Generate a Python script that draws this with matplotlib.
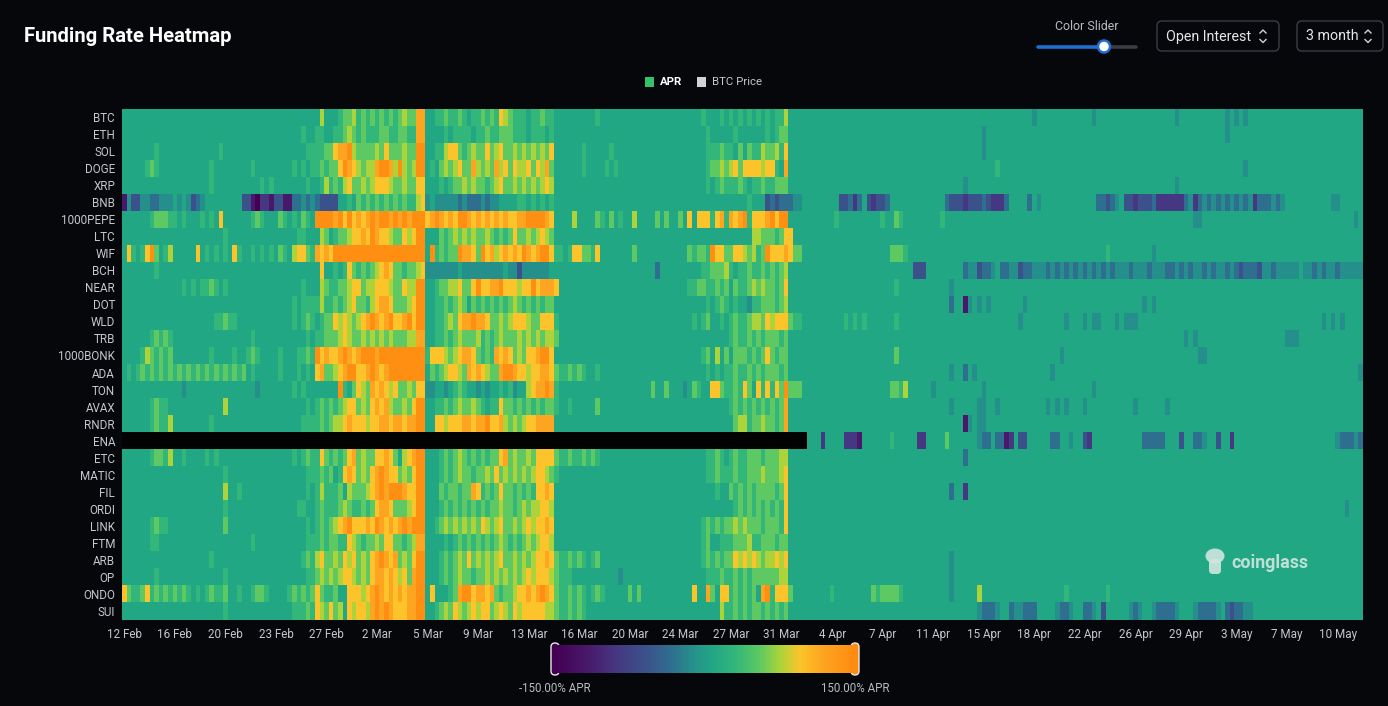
import numpy as np
import matplotlib
matplotlib.use("Agg")
import matplotlib.pyplot as plt
from matplotlib.colors import LinearSegmentedColormap, Normalize
from matplotlib.patches import FancyBboxPatch, Rectangle, Circle, Ellipse
from matplotlib.cm import ScalarMappable

# ---------------- data ----------------
coins = ["BTC", "ETH", "SOL", "DOGE", "XRP", "BNB", "1000PEPE", "LTC", "WIF", "BCH",
         "NEAR", "DOT", "WLD", "TRB", "1000BONK", "ADA", "TON", "AVAX", "RNDR", "ENA",
         "ETC", "MATIC", "FIL", "ORDI", "LINK", "FTM", "ARB", "OP", "ONDO", "SUI"]

date_labels = ["12 Feb", "16 Feb", "20 Feb", "23 Feb", "27 Feb", "2 Mar", "5 Mar", "9 Mar",
               "13 Mar", "16 Mar", "20 Mar", "24 Mar", "27 Mar", "31 Mar", "4 Apr", "7 Apr",
               "11 Apr", "15 Apr", "18 Apr", "22 Apr", "26 Apr", "29 Apr", "3 May", "7 May",
               "10 May"]
label_every = 11   # one date label every 11 funding intervals (8h each)

# funding-rate level code -> APR (%); 'x' = no data
level_apr = {'0': -150, '1': -120, '2': -90, '3': -60, '4': -35, '5': -12, '6': 8,
             '7': 30, '8': 55, '9': 75, 'a': 95, 'b': 118, 'c': 145}

# one code per 8h funding interval, grouped by day (3 per group)
BTC = """
666 666 666 666 666 666 666 666 666 666
666 666 666 666 696 667 889 787 878 787
898 8bb 667 787 787 677 878 7a9 877 767
787 766 666 666 676 666 666 666 666 666
666 666 766 676 767 676 767 677 966 666
666 666 666 666 666 666 666 666 666 666
666 666 666 666 666 666 566 666 666 666
656 666 666 666 666 666 656 666 666 666
565 656 666 666 666 666 666 666 666 666
"""
ETH = """
666 666 666 666 666 666 666 666 666 666
666 666 666 766 776 677 898 787 778 877
887 7bb 666 676 777 767 787 788 877 767
776 766 666 666 666 666 666 666 666 666
666 666 676 666 676 666 667 678 866 666
666 666 666 666 666 666 666 666 666 666
666 666 656 666 666 666 666 666 666 666
666 666 666 666 666 666 666 666 666 666
566 666 666 666 666 666 666 666 666 666
"""
SOL = """
666 666 676 666 666 666 666 766 666 666
666 666 666 677 778 8ab bc9 888 898 a88
898 8cc 667 79a a87 898 8a8 9a8 898 989
898 a66 666 676 666 676 666 666 666 666
666 666 677 787 768 687 798 897 a66 666
666 666 666 666 666 666 666 666 666 666
666 666 656 666 666 666 666 666 666 666
666 666 666 666 666 666 666 666 666 666
666 666 666 666 666 666 666 666 666 666
"""
DOGE = """
666 667 876 666 666 666 676 666 666 676
666 666 676 767 787 88a cba 989 9bc cb9
c98 9cc 676 898 9a8 8b9 898 b9a 8a9 9a8
a9b 866 666 676 666 767 666 666 666 666
666 666 678 898 9a8 aaa a9a a76 b66 666
666 666 666 666 666 666 666 666 666 666
666 666 666 676 666 666 666 666 666 666
666 666 666 666 666 666 666 666 666 666
666 656 666 666 666 666 666 666 666 666
"""
XRP = """
666 666 666 666 666 666 676 666 666 666
767 666 666 676 679 787 9a8 898 9aa a98
898 8aa 666 767 889 898 878 9a8 898 989
89a 966 666 666 666 666 666 666 666 666
666 666 676 787 778 767 787 788 866 666
666 666 666 666 666 666 666 666 666 666
666 566 666 666 666 666 666 666 666 666
666 666 666 666 666 666 656 666 666 666
666 666 666 666 666 666 666 666 666 666
"""
BNB = """
153 355 445 556 565 345 666 666 663 310
221 331 144 545 433 336 676 878 787 878
787 79a 565 555 545 444 545 566 667 767
676 766 666 666 666 666 666 666 666 666
666 666 666 666 666 676 663 434 445 566
666 666 334 246 323 346 666 666 666 664
333 233 343 222 466 664 656 666 666 666
664 434 563 323 334 222 222 452 454 545
454 545 244 454 566 666 666 665 566 666
"""
PEPE1000 = """
666 666 788 877 676 667 676 a66 666 678
766 687 676 876 ccc cbc aca bab cbc cbc
bcb ccc abc bab acc bab aba bab aab bcc
ccb a66 669 666 687 686 766 966 668 686
686 a6a aa7 ab7 bab c7a aab cac c66 666
666 667 666 666 666 766 876 666 666 676
666 666 666 666 666 666 666 666 666 666
666 666 666 666 666 666 666 665 566 666
666 666 666 666 666 666 666 666 666 656
"""
LTC = """
666 666 666 666 666 666 666 676 666 666
666 666 667 766 698 678 89a aba cba a98
8a9 acc 666 878 989 898 898 787 8a8 898
9a9 866 666 666 666 666 666 666 666 666
666 666 666 666 666 669 988 878 aa6 666
666 666 666 666 666 666 666 666 666 666
666 666 666 666 666 666 666 666 666 666
666 666 666 666 666 666 666 666 666 666
666 666 666 666 666 666 666 666 666 666
"""
WIF = """
6a7 67a c86 796 666 6a6 767 676 a76 676
767 687 69a a87 bab acc ccc ccc ccc ccc
ccc ccc 6c7 878 8cb ba8 cab 9ab aba cba
bcc a77 67a a88 7a6 666 666 866 666 666
666 878 87c aa8 8aa 989 78c aaa ba8 866
666 666 666 666 666 668 887 666 666 666
666 666 666 666 666 666 666 666 666 666
666 676 666 666 665 666 666 666 666 666
666 666 666 666 666 666 666 666 666 666
"""
BCH = """
666 666 676 666 666 666 666 666 666 666
666 666 666 666 6a6 676 7a8 787 89a ba8
878 89a 555 555 565 555 555 556 553 555
555 666 666 666 666 666 666 666 664 666
666 666 778 889 767 787 787 878 966 666
666 666 666 666 666 666 666 633 366 666
666 455 344 564 455 344 555 454 545 454
545 454 555 455 545 554 454 545 545 455
454 344 435 545 555 565 545 455 455 555
"""
NEAR = """
666 666 666 666 676 767 787 676 666 666
666 666 666 766 698 778 89a a89 9aa a98
8a9 9cc 667 889 9a8 8ac aab bca aa9 aac
abb ba6 666 666 666 666 666 666 666 666
666 778 877 878 687 789 898 878 a66 666
666 666 666 666 666 666 766 666 666 666
566 666 666 666 666 666 666 666 666 666
666 666 666 666 666 666 666 666 666 666
666 666 666 666 666 666 666 666 666 666
"""
DOT = """
666 666 666 666 666 666 666 666 666 666
666 666 676 777 797 787 89a 887 9ab ba8
889 acc 667 787 898 687 878 787 898 787
878 866 666 666 666 666 666 666 666 666
666 666 676 787 676 657 788 878 966 666
666 666 666 666 666 666 666 666 666 666
466 156 565 666 666 656 666 666 666 666
666 666 666 666 565 666 666 666 666 666
666 666 666 666 666 666 666 666 666 666
"""
WLD = """
666 666 666 666 666 666 667 787 766 666
666 666 676 787 678 8a9 a98 9ab cba bca
abc acc 667 789 8ab bcb ba8 898 9aa a98
8aa a76 666 666 666 666 666 666 666 666
666 676 786 676 787 789 98a 9aa a87 766
666 666 676 767 666 666 766 666 666 666
666 666 666 666 666 566 666 666 656 665
655 666 565 556 666 666 666 666 666 666
666 666 666 666 666 666 666 565 656 666
"""
TRB = """
666 666 787 876 666 666 666 666 666 676
666 666 666 676 778 889 a98 898 989 898
889 9bb 667 787 898 889 787 898 889 898
989 986 666 666 666 666 666 666 666 666
666 666 666 666 787 787 878 887 866 666
666 666 666 666 666 666 666 666 666 666
666 666 666 666 666 666 666 666 666 666
666 666 666 666 666 666 666 565 666 666
666 666 666 666 655 566 666 666 666 666
"""
BONK1000 = """
666 679 878 786 666 666 676 666 766 787
666 676 667 787 cab aab cba bcc cbc ccc
ccc ccc 7aa a98 9ab ba8 787 bab a89 8aa
bcc a66 666 666 666 666 666 666 666 666
666 666 786 968 688 878 78a 878 866 666
666 666 666 666 666 666 866 666 666 666
666 666 666 666 666 666 666 666 566 666
666 666 666 666 666 666 666 666 556 666
666 666 666 666 666 666 666 666 666 666
"""
ADA = """
676 787 878 787 878 787 878 787 878 676
666 676 667 676 ab8 89a bcc aab cba bcc
ccc ccc 687 89a a98 bab a98 8bc cba a9a
abb a87 787 876 676 666 666 666 666 666
666 666 676 767 787 787 878 887 866 666
666 666 666 666 666 666 666 666 666 666
566 465 666 666 666 666 666 656 666 666
666 666 666 666 666 666 666 666 666 666
666 666 666 666 666 666 666 666 666 665
"""
TON = """
666 666 666 666 656 666 666 666 666 665
666 666 676 766 666 66c 768 a98 bab a9a
889 8aa 556 656 787 665 656 676 756 69a
bbc b76 666 666 666 666 666 666 686 686
665 687 66a a87 787 a86 a7a 7a8 c88 866
666 666 666 666 666 668 879 666 665 666
666 666 656 666 666 666 666 666 666 666
656 666 666 666 666 666 666 666 666 666
666 666 666 666 666 666 666 666 666 666
"""
AVAX = """
666 666 787 766 666 666 666 696 666 666
666 666 666 676 787 878 9aa 898 aba b98
898 acc 667 787 898 898 767 7a8 878 787
878 876 676 666 686 666 666 666 666 666
666 666 666 666 787 878 787 878 b66 666
666 666 666 666 666 666 666 666 666 666
566 666 556 656 666 666 666 565 656 665
666 666 666 656 666 665 666 666 666 666
666 666 666 666 666 666 666 666 666 666
"""
RNDR = """
666 666 787 796 666 666 676 666 666 666
666 666 666 777 787 899 aba aa9 aab bab
bab bcc 66a a9a aab bab bca ab9 898 9aa
bbb b66 666 666 666 666 666 666 666 666
666 666 666 666 689 978 898 878 b66 666
666 666 666 666 666 666 666 666 666 666
666 156 556 666 666 666 666 666 666 666
666 666 666 666 666 666 666 666 666 666
666 666 666 666 666 666 666 666 666 666
"""
ENA = """
xxx xxx xxx xxx xxx xxx xxx xxx xxx xxx
xxx xxx xxx xxx xxx xxx xxx xxx xxx xxx
xxx xxx xxx xxx xxx xxx xxx xxx xxx xxx
xxx xxx xxx xxx xxx xxx xxx xxx xxx xxx
xxx xxx xxx xxx xxx xxx xxx xxx xxx xx6
662 666 622 216 666 667 666 662 266 668
666 666 544 644 126 336 666 644 665 663
266 666 666 666 444 446 663 664 456 636
626 666 666 666 666 666 666 666 544 454
"""
ETC = """
666 666 788 796 676 666 767 666 666 666
666 666 676 787 7a8 787 8ab 898 8aa ba8
69a bcc 666 787 898 787 878 8ab 898 898
aaa a87 787 787 876 666 666 666 666 666
666 666 677 876 787 788 878 889 966 666
666 666 666 666 666 666 666 666 666 666
666 466 666 666 666 666 666 666 666 666
666 666 666 666 666 666 666 666 666 666
666 666 666 666 666 666 666 666 666 666
"""
MATIC = """
666 666 666 666 666 666 666 676 666 666
666 666 666 677 787 867 aba 898 abc baa
898 acc 666 787 898 878 898 a89 898 989
aa9 876 666 666 666 666 666 666 666 666
666 666 677 877 787 788 898 889 a66 666
666 666 666 666 666 666 666 666 666 666
666 666 666 666 666 666 666 666 666 666
666 666 666 666 666 666 666 666 666 666
666 666 666 666 666 666 666 666 666 666
"""
FIL = """
666 666 666 666 666 666 666 696 676 666
666 666 666 676 797 778 698 889 abc bcc
cba acc 666 878 878 8ba 787 8a8 878 787
aab a66 666 666 666 666 666 666 666 666
666 666 666 766 878 787 888 878 a66 666
666 666 666 666 666 666 666 666 666 666
466 266 666 666 666 666 666 666 666 666
666 666 666 666 666 666 666 666 666 666
666 666 666 666 666 666 666 666 666 666
"""
ORDI = """
666 666 666 666 666 666 666 676 666 666
666 666 667 766 787 778 987 787 8ab ba8
889 acc 666 787 878 787 878 898 878 989
9aa 966 666 666 666 666 666 666 666 666
666 666 666 666 678 787 878 787 a66 666
666 666 666 666 666 666 666 666 666 666
666 666 666 666 666 666 666 666 666 666
666 666 666 666 666 666 666 666 666 666
666 666 666 666 666 666 666 666 665 666
"""
LINK = """
666 666 787 766 666 666 666 686 666 666
666 666 666 676 787 89a bca aab acb aba
bcb ccc 667 898 989 898 a98 9a8 898 9a9
aab a66 666 666 666 666 666 666 666 666
666 666 787 878 898 988 878 887 a66 666
666 666 666 666 666 666 666 666 666 666
666 666 666 666 666 666 666 666 666 666
666 666 666 666 666 666 666 666 666 666
666 666 666 666 666 666 666 666 666 666
"""
FTM = """
666 666 776 666 666 666 666 666 666 676
666 666 666 677 787 887 7a9 878 898 aa8
878 9bb 666 676 787 878 787 898 787 898
9aa 966 666 666 666 666 666 666 666 666
666 666 786 677 788 897 788 878 866 666
666 666 666 666 666 666 666 666 666 666
666 666 666 666 666 666 666 666 666 666
666 666 666 666 666 666 666 666 666 666
666 666 666 666 666 666 666 666 666 666
"""
ARB = """
666 666 666 666 666 666 676 666 666 666
666 666 666 787 9a8 898 a9a 898 abc bab
898 acc 666 787 898 a89 898 9a8 898 989
aab a87 787 876 786 666 666 666 666 666
666 666 787 878 8a9 a9a 989 9a9 a66 666
666 666 666 666 666 666 666 666 666 666
566 666 666 666 666 666 666 666 666 666
666 666 666 666 666 666 666 666 666 666
666 666 666 666 666 666 666 666 666 666
"""
OP = """
666 666 676 666 666 666 666 676 666 666
666 666 666 677 898 989 aa9 898 abb aba
9a8 bcc 666 787 898 878 898 989 898 9a9
aaa 987 776 666 666 666 566 666 666 666
666 666 677 787 787 878 888 889 966 666
666 666 666 666 666 666 666 666 666 666
566 666 666 666 666 666 666 666 666 666
666 666 666 666 666 666 666 666 666 666
666 666 666 666 666 666 666 666 666 666
"""
ONDO = """
a87 78a 787 878 787 676 787 786 676 678
876 666 787 878 a87 786 6aa a9a bcb aba
bab bcc 6a6 667 8bc cab bab 878 89a aba
bcb a87 787 876 787 666 668 686 666 666
666 6a6 6b8 6aa 787 878 6bc 7aa a86 666
666 676 666 666 687 888 876 666 666 666
566 666 966 666 666 666 666 666 676 666
666 676 666 666 666 666 666 666 666 666
666 666 666 666 666 666 666 666 666 666
"""
SUI = """
666 666 666 666 666 666 666 676 666 666
666 666 677 787 a98 a89 6a9 aa9 bcb cba
aab bcc 667 898 a98 9a9 aa8 9a9 8a9 aaa
aa9 987 787 876 666 666 666 666 666 666
666 666 666 697 787 878 878 787 866 666
666 666 666 666 666 666 666 666 666 666
666 666 544 456 645 544 466 665 445 664
456 366 666 545 665 444 456 665 444 456
434 455 666 666 666 666 666 666 666 666
"""

row_codes = [BTC, ETH, SOL, DOGE, XRP, BNB, PEPE1000, LTC, WIF, BCH, NEAR, DOT, WLD,
             TRB, BONK1000, ADA, TON, AVAX, RNDR, ENA, ETC, MATIC, FIL, ORDI, LINK,
             FTM, ARB, OP, ONDO, SUI]

# ---------------- build matrix ----------------
rows = []
for name, code in zip(coins, row_codes):
    s = "".join(code.split())
    if len(s) != 270:
        raise ValueError(f"{name}: {len(s)} codes")
    rows.append([np.nan if ch == 'x' else level_apr[ch] for ch in s])
Z = np.ma.masked_invalid(np.array(rows, dtype=float))
nrow, ncol = Z.shape

# ---------------- style ----------------
W, H = 1388, 706
BG = '#05070b'
fig = plt.figure(figsize=(W / 100, H / 100), dpi=100)
fig.patch.set_facecolor(BG)
plt.rcParams['font.family'] = ['Roboto', 'DejaVu Sans']

def fx(px):
    return px / W

def fy(py):
    return 1 - py / H

cmap = LinearSegmentedColormap.from_list('funding', [
    (0.00, '#440154'), (0.10, '#48186a'), (0.20, '#453781'), (0.30, '#3b528b'),
    (0.38, '#2f6c8e'), (0.46, '#25918b'), (0.527, '#22a785'), (0.60, '#32b67a'),
    (0.683, '#5ec962'), (0.75, '#a8d43a'), (0.817, '#fcc42a'), (0.893, '#fda520'),
    (1.00, '#ff8b10')])
cmap.set_bad('#030303')
norm = Normalize(-150, 150)

# ---------------- heatmap ----------------
ax = fig.add_axes([fx(122), fy(619.5), fx(1363) - fx(122), fy(108.5) - fy(619.5)])
ax.set_facecolor('#030303')
ax.pcolormesh(np.arange(ncol + 1) - 0.5, np.arange(nrow + 1) - 0.5, Z,
              cmap=cmap, norm=norm, shading='flat', antialiased=False, edgecolors='none')
ax.set_xlim(-0.5, ncol - 0.5)
ax.set_ylim(nrow - 0.5, -0.5)
for sp in ax.spines.values():
    sp.set_visible(False)
ax.set_xticks(np.arange(len(date_labels)) * label_every)
ax.set_xticklabels(date_labels)
ax.set_yticks(np.arange(nrow))
ax.set_yticklabels(coins)
ax.tick_params(axis='both', length=0, colors='#c4c7cc', labelsize=8.4)
ax.tick_params(axis='x', pad=6)
ax.tick_params(axis='y', pad=5)

# ---------------- overlay (pixel coordinates) ----------------
ov = fig.add_axes([0, 0, 1, 1])
ov.set_xlim(0, W)
ov.set_ylim(H, 0)
ov.axis('off')
ov.patch.set_alpha(0)

ov.text(24, 37, "Funding Rate Heatmap", color='white', fontsize=14.6,
        fontweight='bold', va='center', ha='left')

# legend
ov.add_patch(Rectangle((645, 77), 9, 10, facecolor='#35c06b', edgecolor='none'))
ov.text(660, 82, "APR", color='white', fontsize=8.2, fontweight='bold', va='center')
ov.add_patch(Rectangle((697, 77), 9, 10, facecolor='#d2d2d2', edgecolor='none'))
ov.text(712, 82, "BTC Price", color='#c8c8c8', fontsize=8.2, va='center')

# color slider
ov.text(1087, 26, "Color Slider", color='#b8bbc0', fontsize=8.9, ha='center', va='center')
ov.plot([1038, 1104], [46.5, 46.5], color='#1f6fd1', lw=2.6, solid_capstyle='round')
ov.plot([1104, 1136], [46.5, 46.5], color='#3a3c42', lw=2.6, solid_capstyle='round')
ov.add_patch(Circle((1104, 46.5), 6, facecolor='white', edgecolor='#1f6fd1', lw=1.8, zorder=5))

# dropdown buttons
def button(x0, x1, label, chev_x):
    ov.add_patch(FancyBboxPatch((x0, 21), x1 - x0, 30, boxstyle="round,pad=0,rounding_size=5",
                                facecolor='none', edgecolor='#3a3d45', lw=1))
    ov.text(x0 + 9, 36.5, label, color='#e6e8eb', fontsize=10.3, va='center', ha='left')
    ov.plot([chev_x - 3, chev_x, chev_x + 3], [33, 30, 33], color='#d0d2d6', lw=1)
    ov.plot([chev_x - 3, chev_x, chev_x + 3], [39.5, 42.5, 39.5], color='#d0d2d6', lw=1)

button(1157, 1279, "Open Interest", 1263)
button(1297, 1383, "3 month", 1368)

# colour scale bar
cax = fig.add_axes([fx(556), fy(673), fx(855) - fx(556), fy(645) - fy(673)])
cb = fig.colorbar(ScalarMappable(norm=norm, cmap=cmap), cax=cax, orientation='horizontal')
cb.outline.set_visible(False)
cax.set_xticks([])
ov.add_patch(FancyBboxPatch((551, 643), 8, 32, boxstyle="round,pad=0,rounding_size=4",
                            facecolor='#440154', edgecolor='#e8e8e8', lw=1, zorder=6))
ov.add_patch(FancyBboxPatch((851, 643), 8, 32, boxstyle="round,pad=0,rounding_size=4",
                            facecolor='#ff8b10', edgecolor='#e8e8e8', lw=1, zorder=6))
ov.text(555, 688, "-150.00% APR", color='#b8bbc0', fontsize=8.3, ha='center', va='center')
ov.text(855, 688, "150.00% APR", color='#b8bbc0', fontsize=8.3, ha='center', va='center')

# watermark
wm = '#cfe6df'
ov.add_patch(Ellipse((1215, 556), 19, 15, facecolor=wm, edgecolor='none', alpha=0.9))
ov.add_patch(FancyBboxPatch((1209, 559), 12, 15, boxstyle="round,pad=0,rounding_size=4",
                            facecolor=wm, edgecolor='none', alpha=0.9))
ov.text(1231, 563, "coinglass", color=wm, fontsize=12.8, fontweight='bold',
        va='center', ha='left', alpha=0.92)

fig.savefig("out.png", dpi=100, facecolor=BG)
